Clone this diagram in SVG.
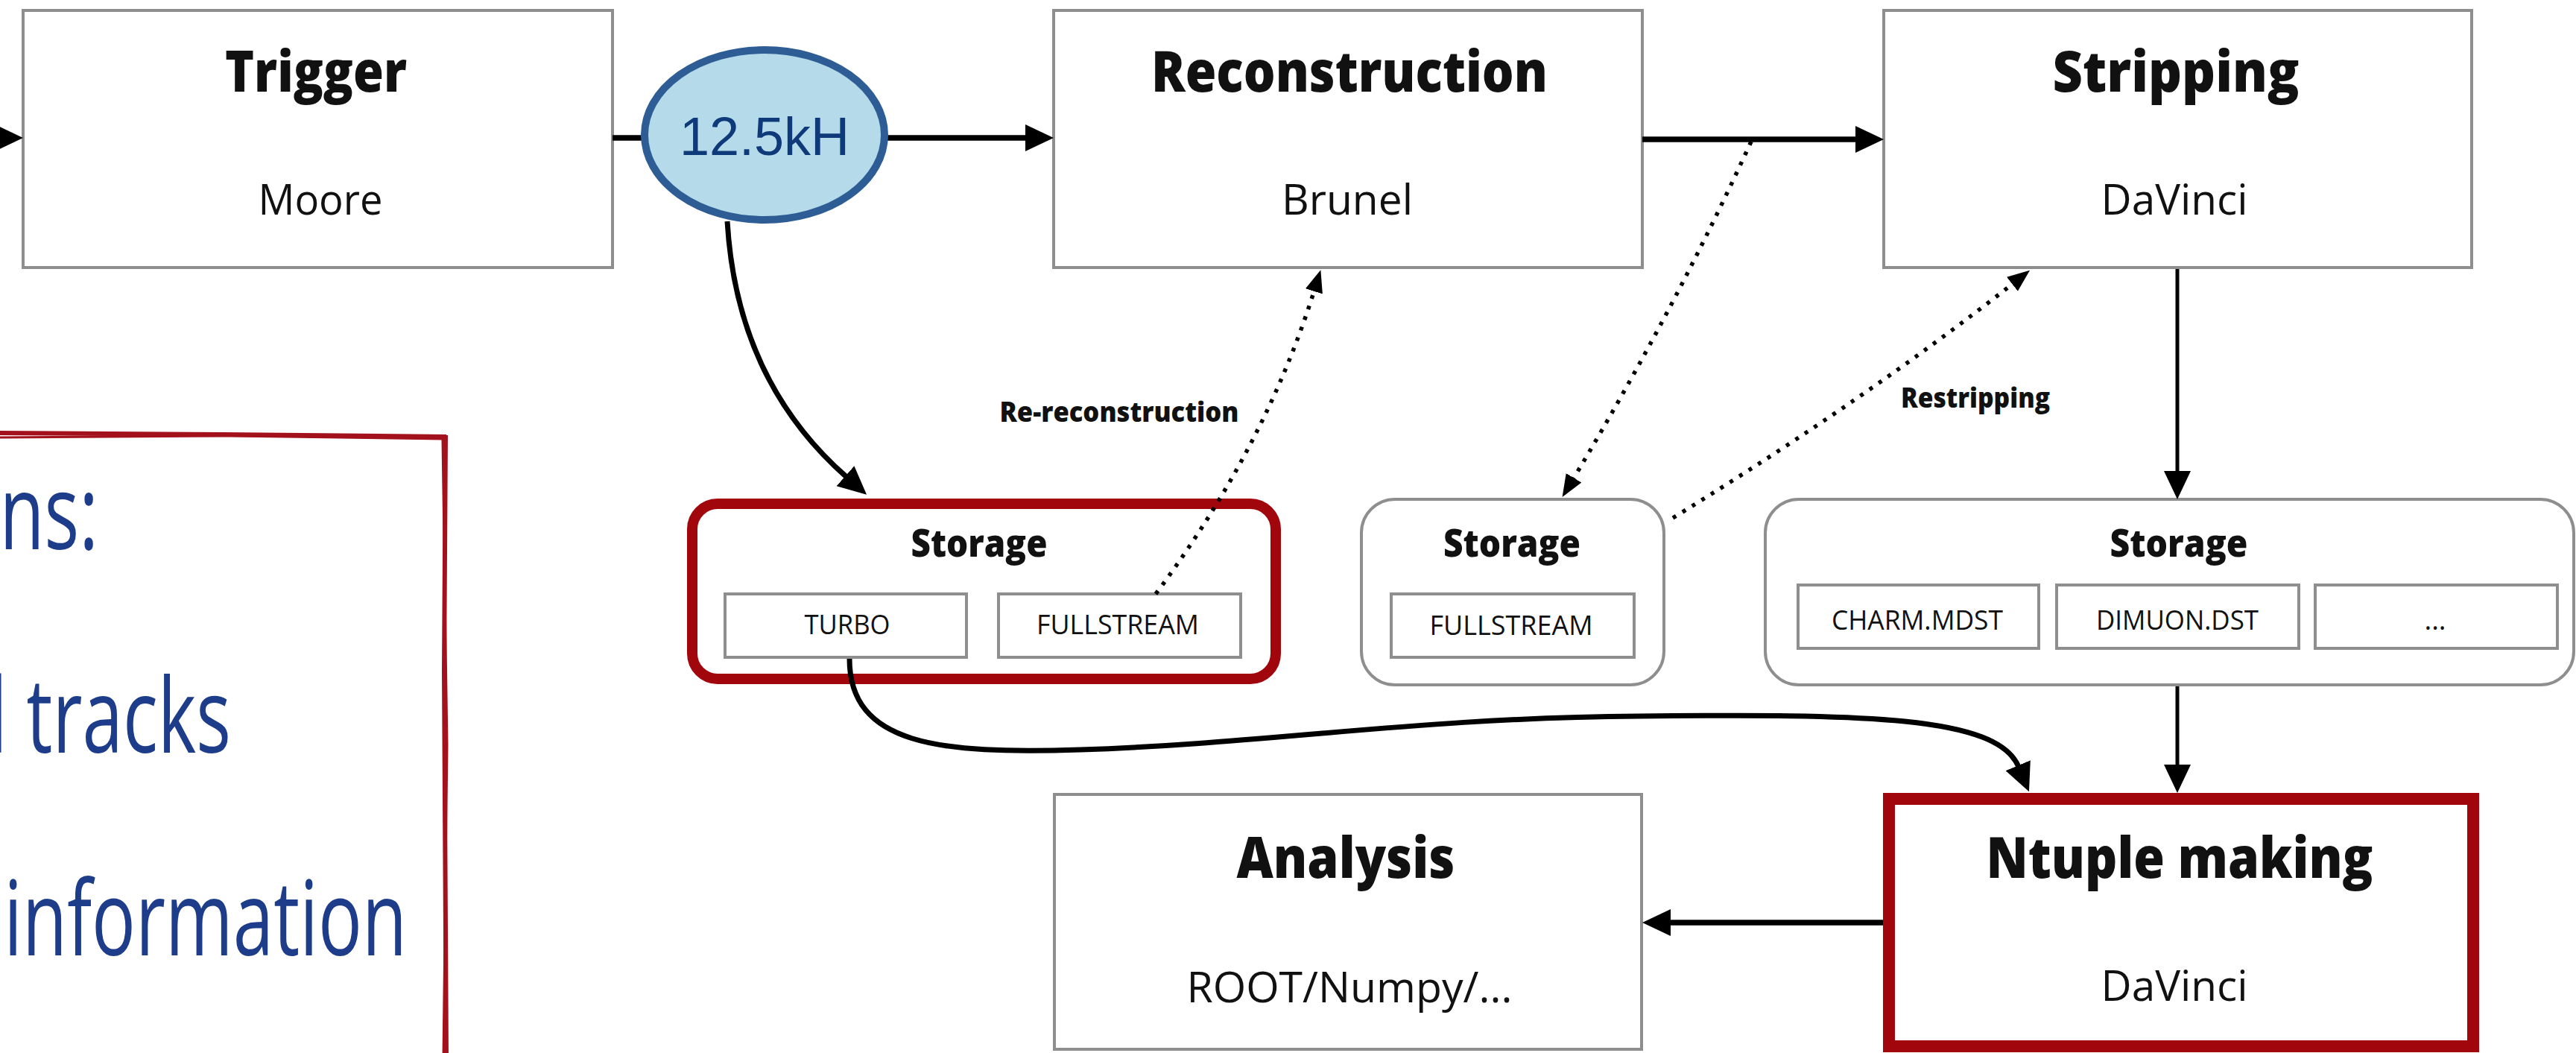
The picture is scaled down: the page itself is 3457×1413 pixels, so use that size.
<svg xmlns="http://www.w3.org/2000/svg" width="3457" height="1413" viewBox="0 0 3457 1413">
<style>
.box{fill:#fff;stroke:#8e8e8e;stroke-width:4}
.sbox{fill:#fff;stroke:#8e8e8e;stroke-width:4}
.t{font-family:"Open Sans","Noto Sans","DejaVu Sans",sans-serif;fill:#111;text-anchor:middle}
.h{font-size:76px;font-weight:800}
.s{font-size:56px;font-weight:500}
.st{font-size:52px;font-weight:800}
.it{font-size:37px;font-weight:500}
.lb{font-size:37px;font-weight:800}
.side{font-family:"Open Sans","Noto Sans",sans-serif;font-size:140px;fill:#1d3c89}
.c{fill:none;stroke:#000}
.thick{stroke-width:7.5}
.thin{stroke-width:5}
.curve{stroke-width:7}
.dot{stroke-width:5.5;stroke-dasharray:5 10}
</style>
<defs>
<marker id="ah" markerUnits="userSpaceOnUse" markerWidth="42" markerHeight="42" viewBox="0 -21 42 42" refX="2" refY="0" orient="auto"><path d="M0,-18 L38,0 L0,18 z" fill="#000"/></marker>
<marker id="ahs" markerUnits="userSpaceOnUse" markerWidth="34" markerHeight="30" viewBox="0 -15 34 30" refX="2" refY="0" orient="auto"><path d="M0,-12 L30,0 L0,12 z" fill="#000"/></marker>
</defs>
<rect width="3457" height="1413" fill="#fff"/>

<g id="side-note">
<path d="M-10 581 L300 583 L599 586" fill="none" stroke="#a3121c" stroke-width="6"/>
<path d="M-10 587 L310 585 L596 589" fill="none" stroke="#a3121c" stroke-width="3"/>
<path d="M598 584 L596 900 L599 1420" fill="none" stroke="#a3121c" stroke-width="6"/>
<path d="M594 590 L600 1000 L595 1420" fill="none" stroke="#a3121c" stroke-width="3"/>
<text class="side" transform="translate(132,737) scale(0.7,1)" text-anchor="end">ns:</text>
<text class="side" transform="translate(310,1010) scale(0.7,1)" text-anchor="end">d tracks</text>
<text class="side" transform="translate(546,1282) scale(0.7,1)" text-anchor="end">information</text>
</g>

<g id="trigger">
<rect class="box" x="31" y="14" width="791" height="345"/>
<text class="t h" x="424" y="123" textLength="244" lengthAdjust="spacingAndGlyphs">Trigger</text>
<text class="t s" x="430" y="288" textLength="167" lengthAdjust="spacingAndGlyphs">Moore</text>
</g>

<g id="reconstruction">
<rect class="box" x="1414" y="14" width="790" height="345"/>
<text class="t h" x="1811" y="123" textLength="532" lengthAdjust="spacingAndGlyphs">Reconstruction</text>
<text class="t s" x="1808" y="288" textLength="176" lengthAdjust="spacingAndGlyphs">Brunel</text>
</g>

<g id="stripping">
<rect class="box" x="2528" y="14" width="789" height="345"/>
<text class="t h" x="2920" y="123" textLength="331" lengthAdjust="spacingAndGlyphs">Stripping</text>
<text class="t s" x="2918" y="288" textLength="197" lengthAdjust="spacingAndGlyphs">DaVinci</text>
</g>

<g id="storage-turbo">
<rect x="929" y="676" width="783" height="235" rx="34" fill="#fff" stroke="#a0060c" stroke-width="14"/>
<text class="t st" x="1314" y="747" textLength="183" lengthAdjust="spacingAndGlyphs">Storage</text>
<rect class="sbox" x="973" y="797" width="324" height="85"/>
<text class="t it" x="1137" y="851" textLength="115" lengthAdjust="spacingAndGlyphs">TURBO</text>
<rect class="sbox" x="1340" y="797" width="325" height="85"/>
<text class="t it" x="1500" y="851" textLength="218" lengthAdjust="spacingAndGlyphs">FULLSTREAM</text>
</g>

<g id="storage-full">
<rect class="box" x="1827" y="670" width="406" height="249" rx="45"/>
<text class="t st" x="2029" y="747" textLength="184" lengthAdjust="spacingAndGlyphs">Storage</text>
<rect class="sbox" x="1867" y="797" width="326" height="85"/>
<text class="t it" x="2028" y="852" textLength="219" lengthAdjust="spacingAndGlyphs">FULLSTREAM</text>
</g>

<g id="storage-stripped">
<rect class="box" x="2369" y="670" width="1085" height="249" rx="45"/>
<text class="t st" x="2924" y="747" textLength="185" lengthAdjust="spacingAndGlyphs">Storage</text>
<rect class="sbox" x="2413" y="785" width="323" height="85"/>
<text class="t it" x="2573" y="845" textLength="230" lengthAdjust="spacingAndGlyphs">CHARM.MDST</text>
<rect class="sbox" x="2760" y="785" width="325" height="85"/>
<text class="t it" x="2922" y="845" textLength="218" lengthAdjust="spacingAndGlyphs">DIMUON.DST</text>
<rect class="sbox" x="3107" y="785" width="325" height="85"/>
<text class="t it" x="3268" y="845">...</text>
</g>

<g id="analysis">
<rect class="box" x="1415" y="1066" width="788" height="342"/>
<text class="t h" x="1806" y="1178" textLength="293" lengthAdjust="spacingAndGlyphs">Analysis</text>
<text class="t s" x="1811" y="1345" textLength="437" lengthAdjust="spacingAndGlyphs">ROOT/Numpy/...</text>
</g>

<g id="ntuple">
<rect x="2535" y="1072" width="784" height="332" fill="#fff" stroke="#a0060c" stroke-width="16"/>
<text class="t h" x="2925" y="1178" textLength="519" lengthAdjust="spacingAndGlyphs">Ntuple making</text>
<text class="t s" x="2918" y="1343" textLength="197" lengthAdjust="spacingAndGlyphs">DaVinci</text>
</g>

<g id="connectors">
<path class="c thick" d="M-45 185 L-5 185" marker-end="url(#ah)"/>
<path class="c thick" d="M822 185 L862 185"/>
<path class="c thick" d="M1190 185 L1378 185" marker-end="url(#ah)"/>
<path class="c thick" d="M2204 187 L2492 187" marker-end="url(#ah)"/>
<path class="c thin" d="M2922 361 L2922 634" marker-end="url(#ah)"/>
<path class="c thin" d="M2922 921 L2922 1028" marker-end="url(#ah)"/>
<path class="c thick" d="M2527 1238 L2240 1238" marker-end="url(#ah)"/>
<path class="c curve" d="M976 297 C985 450 1045 560 1136 640" marker-end="url(#ah)"/>
<path class="c curve" d="M1140 884 C1140 1000 1260 1012 1450 1006 C1700 998 1900 963 2200 961 C2500 958 2680 960 2709 1029" marker-end="url(#ah)"/>
<path class="c dot" d="M1551 797 Q1698 600 1764 389" marker-end="url(#ahs)"/>
<path class="c dot" d="M2350 190 Q2245 420 2111 643" marker-end="url(#ahs)"/>
<path class="c dot" d="M2245 695 Q2505 535 2702 380" marker-end="url(#ahs)"/>
<text class="t lb" x="1502" y="566" textLength="321" lengthAdjust="spacingAndGlyphs">Re-reconstruction</text>
<text class="t lb" x="2651" y="547" textLength="200" lengthAdjust="spacingAndGlyphs">Restripping</text>
</g>

<g id="rate">
<ellipse cx="1026" cy="181" rx="161" ry="114" fill="#b5dbea" stroke="#2d5d94" stroke-width="10"/>
<text x="1026" y="208" text-anchor="middle" font-family="'Liberation Sans',Arial,sans-serif" font-size="72" fill="#0f3a7a">12.5kH</text>
</g>
</svg>
